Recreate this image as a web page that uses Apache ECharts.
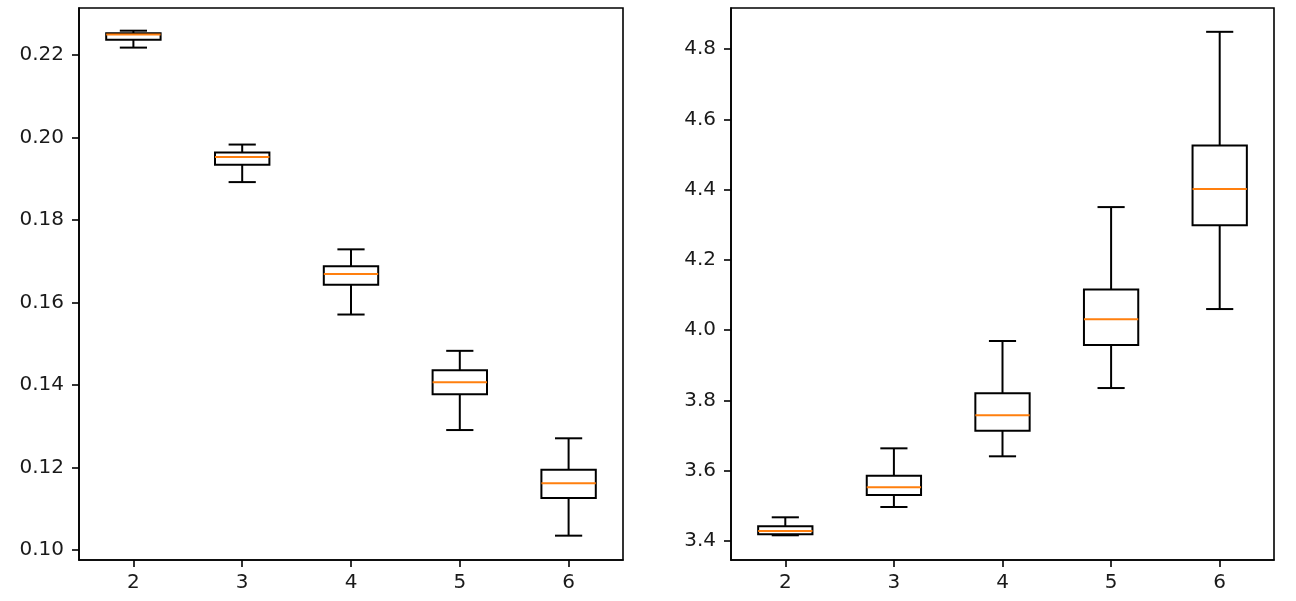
<!DOCTYPE html>
<html>
<head>
<meta charset="utf-8">
<script src="https://cdn.jsdelivr.net/npm/echarts@6/dist/echarts.min.js"></script>
<style>html,body{margin:0;padding:0;background:#fff}#c{width:1296px;height:601px}</style>
</head>
<body>
<div id="c"></div>
<script>
// categories on both x axes
const categories = ['2', '3', '4', '5', '6'];
// each box: [min whisker, Q1, median, Q3, max whisker]
const leftBoxes = [
  [0.2218, 0.2237, 0.2250, 0.2253, 0.2259],
  [0.1892, 0.1934, 0.1953, 0.1964, 0.1983],
  [0.1571, 0.1643, 0.1669, 0.1688, 0.1729],
  [0.1291, 0.1378, 0.1407, 0.1436, 0.1483],
  [0.1035, 0.1126, 0.1162, 0.1195, 0.1271]
];
const rightBoxes = [
  [3.4163, 3.4191, 3.4285, 3.4419, 3.4675],
  [3.4968, 3.5310, 3.5529, 3.5859, 3.6638],
  [3.6411, 3.7139, 3.7577, 3.8203, 3.9692],
  [3.8354, 3.9578, 4.0309, 4.1162, 4.3504],
  [4.0602, 4.2984, 4.4017, 4.5260, 4.8492]
];
const leftTicks = [0.10, 0.12, 0.14, 0.16, 0.18, 0.20, 0.22];
const rightTicks = [3.4, 3.6, 3.8, 4.0, 4.2, 4.4, 4.6, 4.8];

const FONT = 'DejaVu Sans';
const chart = echarts.init(document.getElementById('c'), null, {renderer: 'canvas'});

function renderBox(params, api) {
  const i = api.value(0);
  const mn = api.value(1), q1 = api.value(2), md = api.value(3), q3 = api.value(4), mx = api.value(5);
  const band = api.size([1, 0])[0];
  const hw = band * 0.25, cw = band * 0.125;
  const x = api.coord([i, md])[0];
  const yMin = api.coord([i, mn])[1], yQ1 = api.coord([i, q1])[1];
  const yMd = api.coord([i, md])[1], yQ3 = api.coord([i, q3])[1], yMax = api.coord([i, mx])[1];
  const blk = {stroke: '#000', lineWidth: 2, fill: null};
  return {
    type: 'group',
    children: [
      {type: 'line', shape: {x1: x, y1: yQ1, x2: x, y2: yMin}, style: blk},
      {type: 'line', shape: {x1: x, y1: yQ3, x2: x, y2: yMax}, style: blk},
      {type: 'line', shape: {x1: x - cw, y1: yMin, x2: x + cw, y2: yMin}, style: blk},
      {type: 'line', shape: {x1: x - cw, y1: yMax, x2: x + cw, y2: yMax}, style: blk},
      {type: 'rect', shape: {x: x - hw, y: yQ3, width: 2 * hw, height: yQ1 - yQ3}, style: {stroke: '#000', lineWidth: 2, fill: 'rgba(0,0,0,0)'}},
      {type: 'line', shape: {x1: x - hw, y1: yMd, x2: x + hw, y2: yMd}, style: {stroke: '#ff7f0e', lineWidth: 2}}
    ]
  };
}

function toData(boxes) {
  return boxes.map((b, i) => [i].concat(b));
}

function xAxis(gi) {
  return {
    type: 'category', gridIndex: gi, data: categories, boundaryGap: true,
    axisLine: {show: true, lineStyle: {color: '#000', width: 1.6}},
    axisTick: {show: true, alignWithLabel: true, length: 7, inside: false, lineStyle: {color: '#000', width: 1.6}},
    axisLabel: {color: '#1a1a1a', fontFamily: FONT, fontSize: 20, margin: 13},
    splitLine: {show: false}
  };
}
function yAxis(gi, min, max, ticks, dec) {
  return {
    type: 'value', gridIndex: gi, min: min, max: max,
    axisLine: {show: true, lineStyle: {color: '#000', width: 1.6}},
    axisTick: {show: true, length: 7, customValues: ticks, lineStyle: {color: '#000', width: 1.6}},
    axisLabel: {color: '#1a1a1a', fontFamily: FONT, fontSize: 20, margin: 15, customValues: ticks,
      formatter: v => Number(v).toFixed(dec)},
    splitLine: {show: false}
  };
}

chart.setOption({
  animation: false,
  backgroundColor: '#fff',
  grid: [
    {left: 79, top: 8, width: 544, height: 552, show: true, borderColor: '#000', borderWidth: 1.6, backgroundColor: 'transparent'},
    {left: 731, top: 8, width: 543, height: 552, show: true, borderColor: '#000', borderWidth: 1.6, backgroundColor: 'transparent'}
  ],
  xAxis: [xAxis(0), xAxis(1)],
  yAxis: [yAxis(0, 0.0976, 0.2314, leftTicks, 2), yAxis(1, 3.346, 4.917, rightTicks, 1)],
  series: [
    {type: 'custom', xAxisIndex: 0, yAxisIndex: 0, renderItem: renderBox, data: toData(leftBoxes), encode: {x: 0, y: [1, 2, 3, 4, 5]}},
    {type: 'custom', xAxisIndex: 1, yAxisIndex: 1, renderItem: renderBox, data: toData(rightBoxes), encode: {x: 0, y: [1, 2, 3, 4, 5]}}
  ]
});
</script>
</body>
</html>
